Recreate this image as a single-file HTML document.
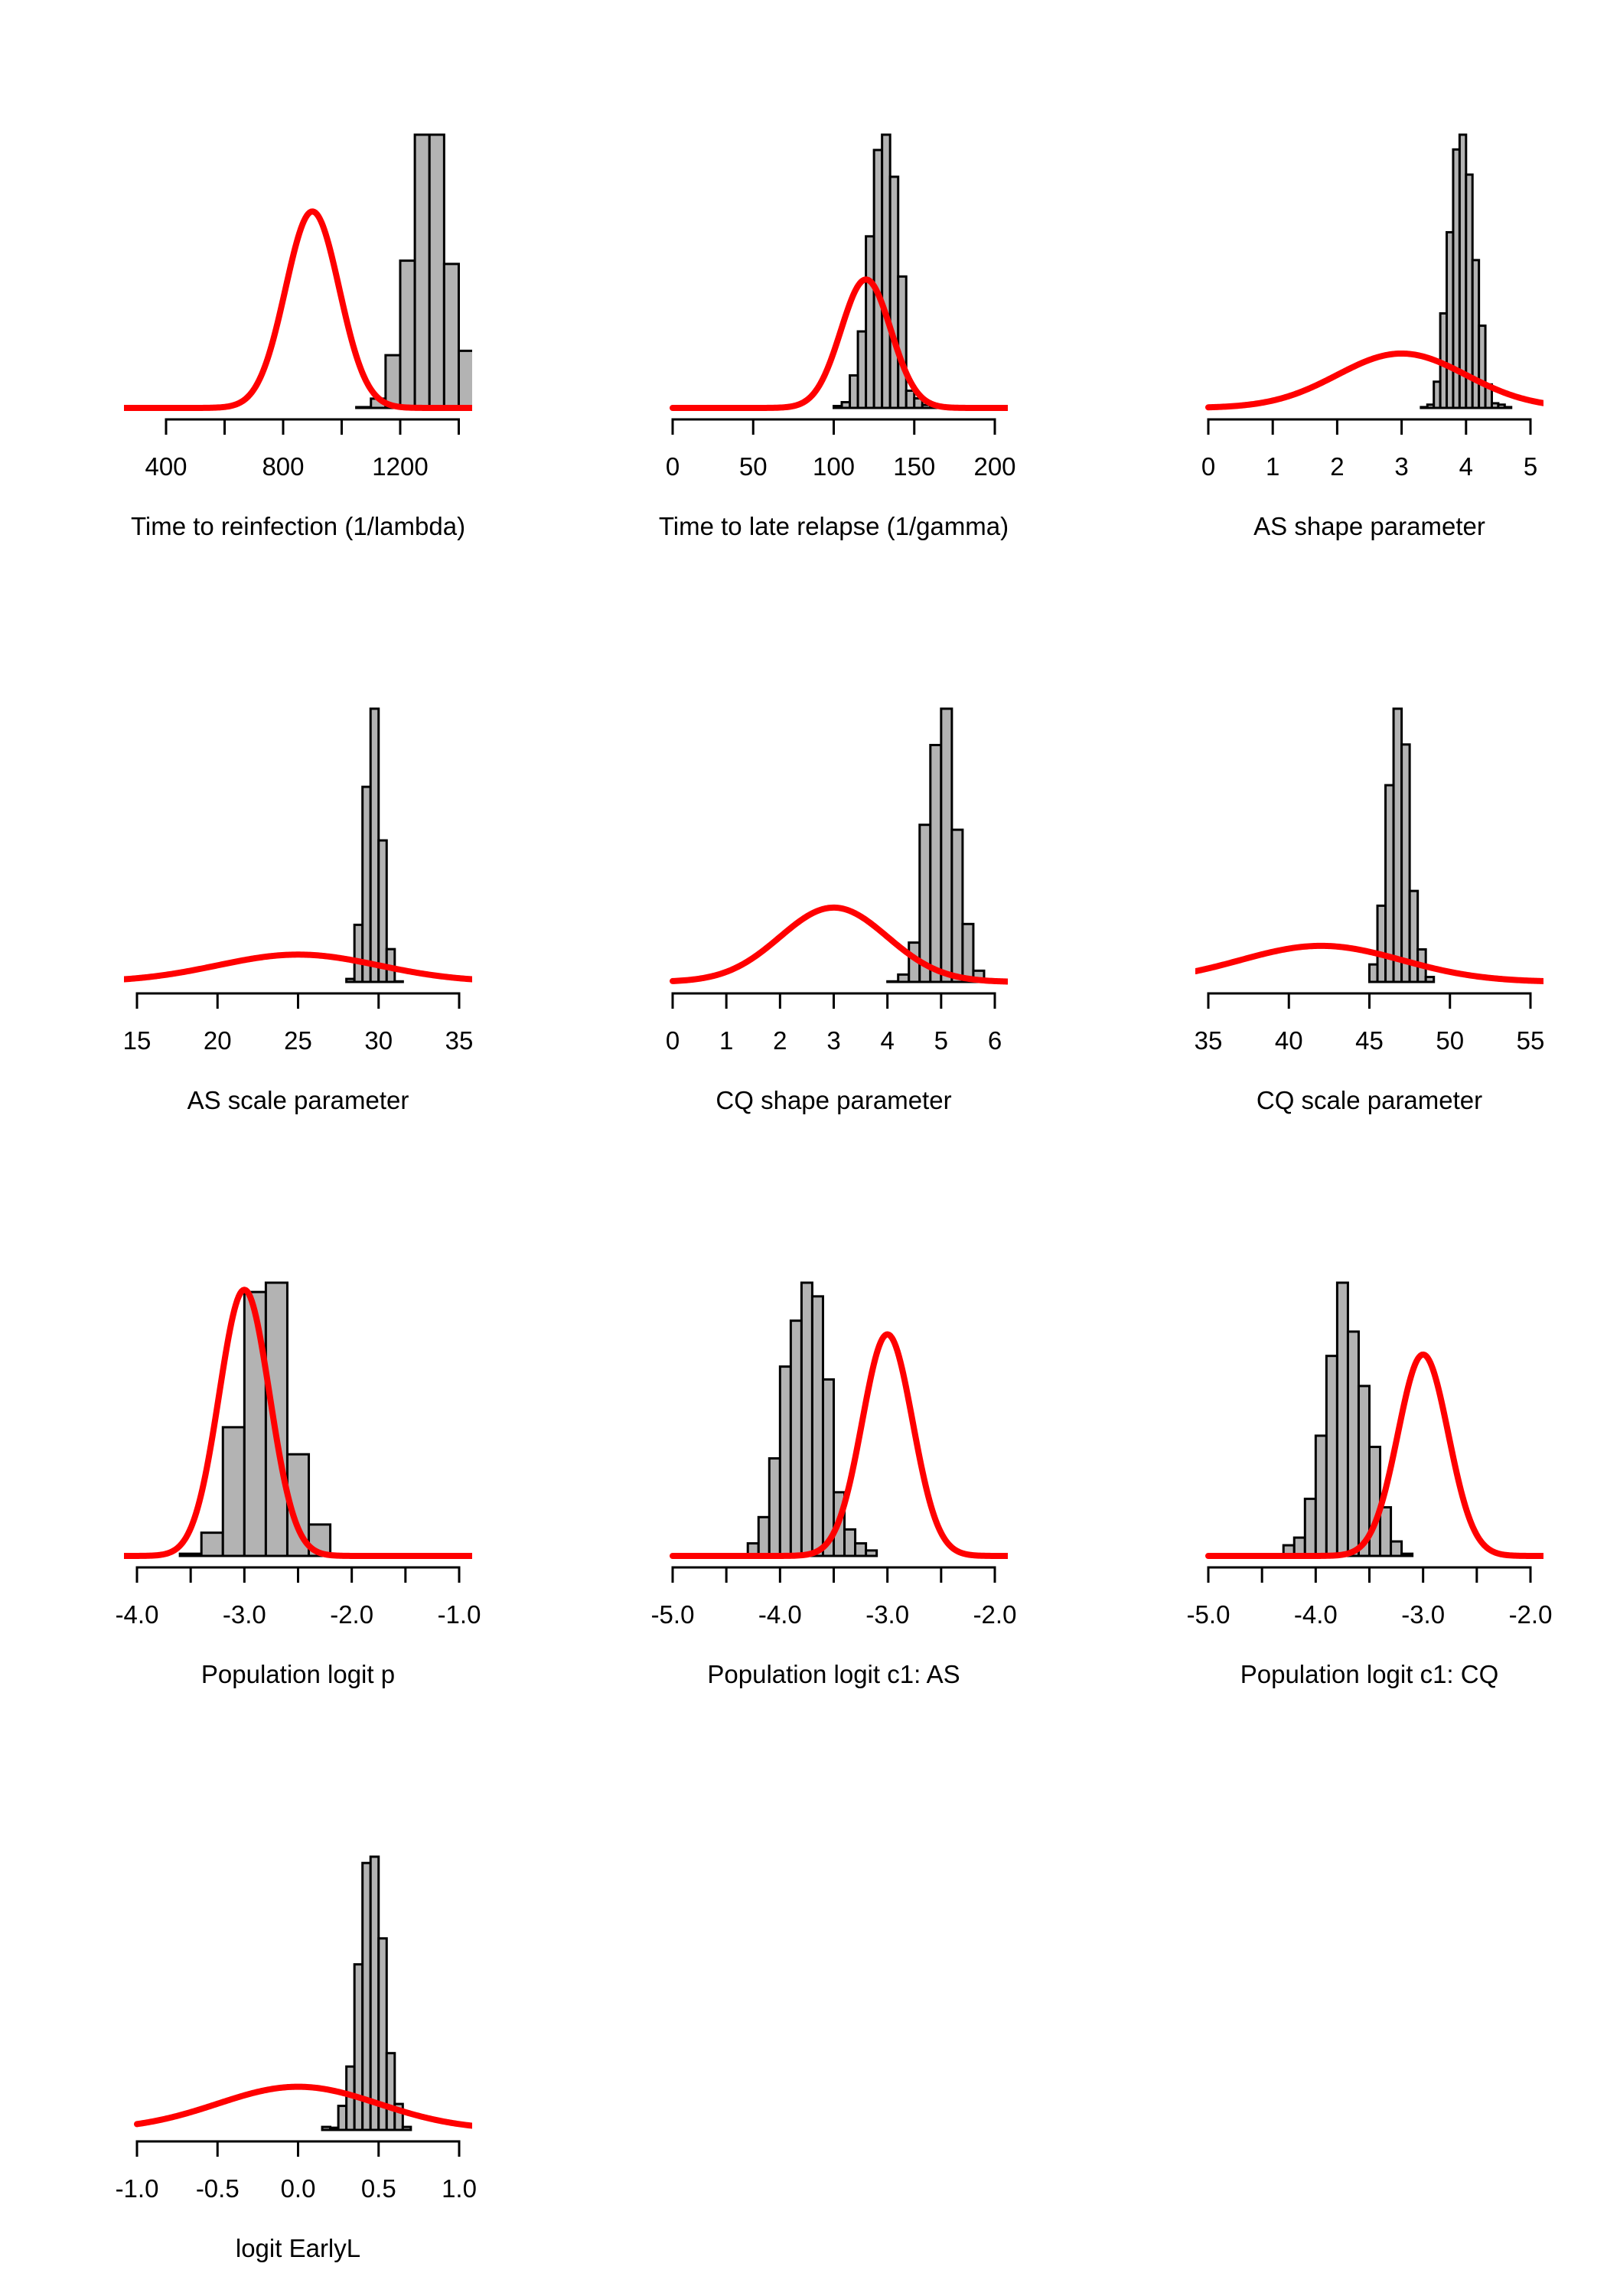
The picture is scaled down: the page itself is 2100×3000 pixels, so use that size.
<!DOCTYPE html>
<html><head><meta charset="utf-8"><style>
html,body{margin:0;padding:0;background:#fff;}
svg{display:block;}
text{font-family:"Liberation Sans",Arial,sans-serif;font-size:33px;fill:#000;}
</style></head>
<body>
<svg id="chart" width="2100" height="3000" viewBox="0 0 2100 3000" xmlns="http://www.w3.org/2000/svg">
<rect x="0" y="0" width="2100" height="3000" fill="#fff"/>
</svg>
<script>
const titles = ["Time to reinfection (1/lambda)","Time to late relapse (1/gamma)","AS shape parameter","AS scale parameter","CQ shape parameter","CQ scale parameter","Population logit p","Population logit c1: AS","Population logit c1: CQ","logit EarlyL"];
const tickValues = [
  [400,600,800,1000,1200,1400],[0,50,100,150,200],[0,1,2,3,4,5],[15,20,25,30,35],[0,1,2,3,4,5,6],[35,40,45,50,55],
  [-4,-3.5,-3,-2.5,-2,-1.5,-1],[-5,-4.5,-4,-3.5,-3,-2.5,-2],[-5,-4.5,-4,-3.5,-3,-2.5,-2],[-1,-0.5,0,0.5,1]];
const tickLabels = [
  ["400","800","1200"],["0","50","100","150","200"],["0","1","2","3","4","5"],["15","20","25","30","35"],["0","1","2","3","4","5","6"],["35","40","45","50","55"],
  ["-4.0","-3.0","-2.0","-1.0"],["-5.0","-4.0","-3.0","-2.0"],["-5.0","-4.0","-3.0","-2.0"],["-1.0","-0.5","0.0","0.5","1.0"]];
const binStart = [1050,100,3.3,28,4.0,45,-3.6,-4.3,-4.3,0.15];
const binWidth = [50,5,0.1,0.5,0.2,0.5,0.2,0.1,0.1,0.05];
const histHeights = [
  [0.003,0.034,0.193,0.539,1,1,0.527,0.209],
  [0.007,0.021,0.119,0.280,0.628,0.944,1,0.846,0.481,0.063,0.035,0.011,0.005,0.002],
  [0.003,0.012,0.096,0.346,0.643,0.946,1,0.854,0.541,0.301,0.086,0.017,0.012,0.003],
  [0.011,0.209,0.714,1,0.518,0.120,0.002],
  [0.002,0.027,0.144,0.575,0.867,1,0.557,0.212,0.041],
  [0.064,0.279,0.720,1,0.869,0.333,0.119,0.018],
  [0.008,0.085,0.471,0.966,1,0.372,0.115],
  [0.046,0.142,0.357,0.693,0.861,1,0.950,0.646,0.233,0.097,0.046,0.020],
  [0.039,0.067,0.209,0.440,0.732,1,0.821,0.622,0.399,0.178,0.053,0.008],
  [0.011,0.008,0.088,0.232,0.606,0.977,1,0.701,0.281,0.095,0.011]];
const priorMean = [900,120,3,25,3,42,-3,-3,-3,0];
const priorSd = [92,15.5,1,5,1,5,0.235,0.235,0.235,0.5];
const priorPeak = [0.719,0.470,0.199,0.100,0.272,0.132,0.974,0.811,0.737,0.158];
const curveFrom = [256,0,0,14.2,0,34.2,-4.12,-5,-5,-1];

const NS = "http://www.w3.org/2000/svg";
const svg = document.getElementById('chart');
function mk(tag, attrs, parent){
  const e = document.createElementNS(NS, tag);
  for (const k in attrs) e.setAttribute(k, attrs[k]);
  parent.appendChild(e);
  return e;
}
const defs = mk('defs', {}, svg);
for (let p = 0; p < titles.length; p++) {
  const col = p % 3, row = Math.floor(p / 3);
  const ox = col * 700, base = 533 + row * 750;
  const L = ox + 162, R = ox + 617, H = 357;
  const tv = tickValues[p];
  let xmin, xmax;
  if (p === 0) { xmin = 256.2; xmax = 1445.8; }
  else { const span = tv[tv.length-1] - tv[0]; xmin = tv[0] - span*17/421; xmax = tv[tv.length-1] + span*17/421; }
  const sx = v => L + (v - xmin) / (xmax - xmin) * (R - L);
  const sy = v => base - v * H;

  const g = mk('g', {}, svg);
  
  

  const cp = mk('clipPath', {id: 'clip' + p}, defs);
  mk('rect', {x: L, y: base - H - 30, width: R - L, height: H + 40}, cp);

  const hist = mk('g', {'clip-path': 'url(#clip' + p + ')'}, g);
  
  
  histHeights[p].forEach((h, i) => {
    const a = binStart[p] + i * binWidth[p], b = a + binWidth[p];
    const r = mk('rect', {x: sx(a), y: sy(h), width: sx(b) - sx(a), height: base - sy(h), fill: '#b3b3b3', stroke: '#000', 'stroke-width': 3}, hist);
    
    
  });

  let d = '';
  const x0 = curveFrom[p], x1 = xmax, N = 240;
  for (let i = 0; i <= N; i++) {
    const v = x0 + (x1 - x0) * i / N;
    const z = (v - priorMean[p]) / priorSd[p];
    const y = priorPeak[p] * Math.exp(-0.5 * z * z);
    d += (i ? 'L' : 'M') + sx(v).toFixed(2) + ' ' + sy(y).toFixed(2);
  }
  const path = mk('path', {d: d, fill: 'none', stroke: '#ff0000', 'stroke-width': 8, 'stroke-linecap': 'round', 'stroke-linejoin': 'round', 'clip-path': 'url(#clip' + p + ')'}, g);
  
  

  const ax = mk('g', {}, g);
  
  
  const ay = base + 15;
  mk('line', {x1: sx(tv[0]), x2: sx(tv[tv.length-1]), y1: ay, y2: ay, stroke: '#000', 'stroke-width': 3, 'stroke-linecap': 'square'}, ax);
  tv.forEach(t => {
    const tk = mk('line', {x1: sx(t), x2: sx(t), y1: ay, y2: ay + 20, stroke: '#000', 'stroke-width': 3}, ax);
    
    
  });
  tickLabels[p].forEach(s => {
    const t = mk('text', {x: sx(parseFloat(s)), y: base + 88, 'text-anchor': 'middle'}, ax);
    t.textContent = s;
    
    
  });
  const tt = mk('text', {x: (L + R) / 2, y: base + 166, 'text-anchor': 'middle'}, g);
  tt.textContent = titles[p];
  
  
}
</script>
</body></html>
